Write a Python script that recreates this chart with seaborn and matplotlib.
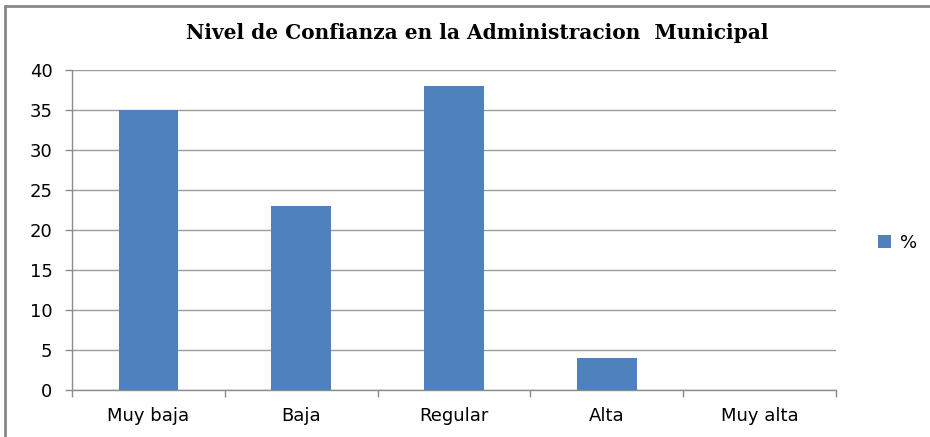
import matplotlib
matplotlib.use("Agg")
import matplotlib.pyplot as plt
from matplotlib.lines import Line2D
from matplotlib.patches import Patch
import seaborn as sns
import pandas as pd

categories = ["Muy baja", "Baja", "Regular", "Alta", "Muy alta"]
values = [35, 23, 38, 4, 0]
series_name = "%"
title = "Nivel de Confianza en la Administracion  Municipal"
yticks = [0, 5, 10, 15, 20, 25, 30, 35, 40]

bar_color = "#4F81BD"
grid_color = "#9C9C9C"
axis_color = "#8C8C8C"

sns.set_theme(style="white")
plt.rcParams["font.family"] = ["DejaVu Sans"]
plt.rcParams["text.color"] = "#000000"

df = pd.DataFrame({"Nivel": categories, "Valor": values})

fig = plt.figure(figsize=(9.30, 4.37), dpi=100)
ax = fig.add_axes([0.0774, 0.1076, 0.8215, 0.7322])

sns.barplot(data=df, x="Nivel", y="Valor", color=bar_color, width=0.39,
            saturation=1, ax=ax, zorder=3, edgecolor="none", linewidth=0)

ax.set_xlim(-0.5, len(categories) - 0.5)
ax.set_ylim(0, 40)
ax.set_yticks(yticks)
ax.set_yticklabels([str(v) for v in yticks])
ax.set_xlabel("")
ax.set_ylabel("")

ax.yaxis.grid(True, color=grid_color, linewidth=1.0, zorder=0)
ax.xaxis.grid(False)
for side in ["top", "right"]:
    ax.spines[side].set_visible(False)
for side in ["left", "bottom"]:
    ax.spines[side].set_color(axis_color)
    ax.spines[side].set_linewidth(1.0)

# Category boundary ticks on the x axis, outward ticks on y
ax.set_xticks(range(len(categories)))
ax.set_xticklabels(categories)
ax.set_xticks([i - 0.5 for i in range(len(categories) + 1)], minor=True)
ax.tick_params(axis="x", which="major", length=0, pad=12, labelsize=13,
               colors="#000000")
ax.tick_params(axis="x", which="minor", length=5, width=1.0, color=axis_color,
               direction="out", bottom=True)
ax.tick_params(axis="y", which="major", length=5, width=1.0, color=axis_color,
               direction="out", left=True, pad=9, labelsize=13,
               labelcolor="#000000")

fig.text(0.513, 0.924, title, ha="center", va="center", color="#000000",
         fontsize=14.5, fontweight="bold",
         family=["DejaVu Serif"])

handle = Patch(facecolor=bar_color, edgecolor="none")
fig.legend([handle], [series_name], loc="center left",
           bbox_to_anchor=(0.944, 0.445), frameon=False, fontsize=13,
           handlelength=0.75, handleheight=0.75, handletextpad=0.5,
           borderaxespad=0.0, borderpad=0.0, labelcolor="#000000")

# Chart frame: top and left edges
fig.add_artist(Line2D([0.0055, 1.0], [0.986, 0.986], transform=fig.transFigure,
                      color="#888888", linewidth=2.0))
fig.add_artist(Line2D([0.0055, 0.0055], [0.0, 0.986], transform=fig.transFigure,
                      color="#888888", linewidth=2.0))

fig.savefig("out.png", dpi=100)
